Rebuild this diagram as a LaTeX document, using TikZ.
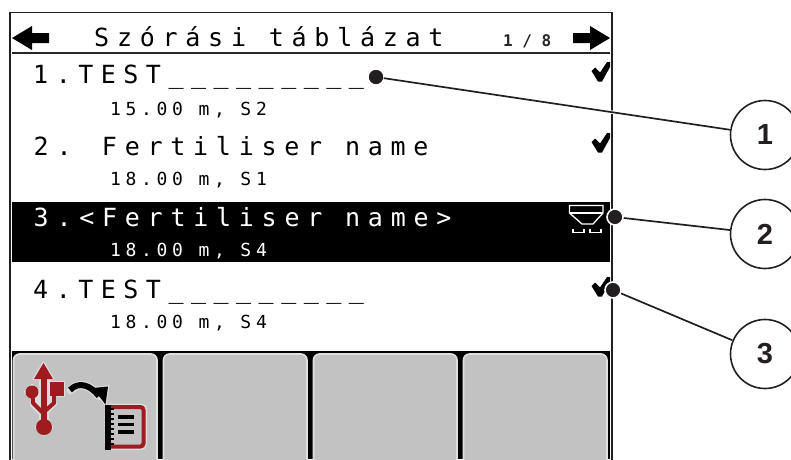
\documentclass[tikz,border=0pt]{standalone}
\usepackage{fontspec}
\setmainfont{Liberation Sans}
\newfontfamily\lcdbig[LetterSpace=31]{DejaVu Sans Mono}
\newfontfamily\lcdtight[LetterSpace=30]{DejaVu Sans Mono}
\newfontfamily\lcdsmall[LetterSpace=26]{DejaVu Sans Mono}
\newfontfamily\lcdpage{DejaVu Sans Mono}
\definecolor{ink}{HTML}{231F20}
\definecolor{usbred}{HTML}{9E1B20}
\definecolor{keygray}{HTML}{C2C2C2}
\definecolor{halo}{HTML}{DCDCDC}
\tikzset{
  bigtext/.style={anchor=base west,inner sep=0pt,font=\lcdbig\fontsize{25}{25}\selectfont,text=#1},
  bigtext/.default=black,
  tighttext/.style={anchor=base west,inner sep=0pt,font=\lcdtight\fontsize{25}{25}\selectfont,text=black},
  smalltext/.style={anchor=base west,inner sep=0pt,font=\lcdsmall\fontsize{18}{18}\selectfont,text=#1},
  smalltext/.default=black,
  softkey/.style={fill=keygray,draw=white!88!black,line width=1.6pt,rounded corners=6pt},
  callout/.style={circle,draw=ink,fill=white,line width=1.6pt,minimum size=69pt,inner sep=0pt,
    font=\bfseries\fontsize{29}{29}\selectfont,text=ink},
  leaderdot/.style={circle,fill=ink,draw=white,line width=1.6pt,minimum size=16pt,inner sep=0pt},
  leader/.style={draw=ink,line width=1.7pt},
  checkmark/.style={fill=black},
}
\newcommand{\tickat}[2]{\fill[checkmark,shift={(#1,#2)}] (591.5,71) -- (595,67.5) -- (600,72.5) -- (607,62) -- (610,62) -- (610,67) -- (602,81.5) -- (598,81.5) -- cycle;}
\begin{document}
\begin{tikzpicture}[x=1pt,y=-1pt]
\useasboundingbox (0,0) rectangle (791,459);
\clip (0,0) rectangle (791,459);
\fill[white] (0,0) rectangle (791,459);
% frame
\draw[ink,line width=1.5pt] (10,460) -- (10,12.5) -- (612,12.5) -- (612,460);
% header
\fill[black] (12,38) -- (32,26) -- (32,33) -- (49,33) -- (49,43) -- (32,43) -- (32,50) -- cycle;
\fill[black] (610,38) -- (590,26) -- (590,33) -- (573,33) -- (573,43) -- (590,43) -- (590,50) -- cycle;
\node[bigtext] (title) at (94,46.5) {Szórási táblázat};
\node[anchor=base west,inner sep=0pt,font=\lcdpage\bfseries\fontsize{16}{16}\selectfont,text=black!85] (page) at (503,46.5) {1 / 8};
\draw[black!85,line width=1.5pt] (12,53) -- (610,53);
% rows
\node[tighttext] (r1) at (33,83.5) {1.TEST\_\_\_\_\_\_\_\_\_};
\node[smalltext] (s1) at (110,115) {15.00 m, S2};
\tickat{0}{0}
\node[bigtext] (r2) at (33.5,155) {2. Fertiliser name};
\node[smalltext] (s2) at (110,185) {18.00 m, S1};
\tickat{0}{71}
\fill[black] (12,202) rectangle (610,262);
\node[bigtext=white] (r3) at (33.5,226.7) {3.<Fertiliser name>};
\node[smalltext=white] (s3) at (110,256.7) {18.00 m, S4};
% hopper icon
\draw[white,line width=1.3pt] (569.5,205.5) -- (603,205.5) -- (603,213) -- (593,224) -- (582,224) -- (569.5,213) -- cycle;
\draw[white,line width=1.3pt] (569.5,213) -- (603,213);
\draw[white,line width=1.8pt] (573,229) -- (573,232.5) -- (584,232.5) -- (584,229);
\draw[white,line width=1.8pt] (590,229) -- (590,232.5) -- (601,232.5) -- (601,229);
\node[tighttext] (r4) at (33,298) {4.TEST\_\_\_\_\_\_\_\_\_};
\node[smalltext] (s4) at (110,328) {18.00 m, S4};
\tickat{0}{215}
% soft keys
\fill[black] (12,351) rectangle (610,459);
\draw[softkey] (13.5,354) rectangle (157,470);
\draw[softkey] (163.5,354) rectangle (307,470);
\draw[softkey] (313.5,354) rectangle (457,470);
\draw[softkey] (463.5,354) rectangle (607,470);
% usb icon
\begin{scope}[line cap=round,line join=round]
  \fill[halo,draw=halo,line width=2.4pt] (43.5,363) -- (53,379) -- (48,379) -- (48,381) -- (50,381) -- (50,382) -- (64,382) -- (64,396) -- (56,396) -- (56,404) -- (48,412) -- (48,420) -- (52,427) -- (44,435) -- (36,427) -- (40,420) -- (40,414) -- (31,405) -- (31,398) -- (25,392) -- (32,385) -- (39,392) -- (40,392) -- (40,379) -- (34,379) -- cycle;
  \fill[usbred] (43.5,363) -- (53,379) -- (34,379) -- cycle;
  \draw[usbred,line width=6pt,line cap=butt] (44,378) -- (44,425);
  \fill[usbred] (44,427) circle (8);
  \fill[usbred] (32,392) circle (6.5);
  \draw[usbred,line width=4pt] (32.5,395) -- (33,403) -- (43,413);
  \fill[usbred] (50,382) rectangle (64,396);
  \draw[usbred,line width=4pt] (54,394) -- (54,403) -- (45,411);
\end{scope}
\draw[halo,line width=8.5pt,line cap=round] (71,390) .. controls (79,381) and (90,385) .. (99,396);
\fill[halo,draw=halo,line width=2.4pt] (93,388) -- (108,386.5) -- (105.5,404.5) -- cycle;
\draw[black,line width=6pt] (70,390) .. controls (79,381) and (90,385) .. (99,396);
\fill[black] (93,388) -- (108,386.5) -- (105.5,404.5) -- cycle;
% list icon
\draw[halo,line width=7pt,rounded corners=3pt] (108,407) rectangle (143.5,446.5);
\fill[keygray] (110,409) rectangle (141.5,444.5);
\draw[usbred,line width=4pt,rounded corners=3pt] (108,407) -- (143.5,407) -- (143.5,446.5) -- (108,446.5);
\fill[black] (105,405) rectangle (110.5,450);
\foreach \ty in {408,413,418,423,428,433,438,443}{\fill[black] (110,\ty-0.5) rectangle (114,\ty+2);}
\foreach \ly in {417,424.5,432}{\fill[black] (117.5,\ly-1.7) rectangle (134,\ly+1.7);}
% frame over the bar edges
\draw[ink,line width=1.5pt] (612,12.5) -- (612,460);
% callouts
\node[callout] (c1) at (765,135) {1};
\node[callout] (c2) at (765,234) {2};
\node[callout] (c3) at (765,354) {3};
\node[leaderdot,draw=none,minimum size=14pt] (d1) at (376,77) {};
\node[leaderdot] (d2) at (615,217) {};
\node[leaderdot] (d3) at (613,290) {};
\draw[white,line width=3.4pt] (d1) -- (c1);
\draw[white,line width=3.4pt] (d3) -- (c3);
\draw[leader] (d1) -- (c1);
\draw[leader] (d2) -- (c2);
\draw[leader] (d3) -- (c3);
\node[leaderdot,draw=none,minimum size=14pt] at (d1) {};
\end{tikzpicture}
\end{document}
